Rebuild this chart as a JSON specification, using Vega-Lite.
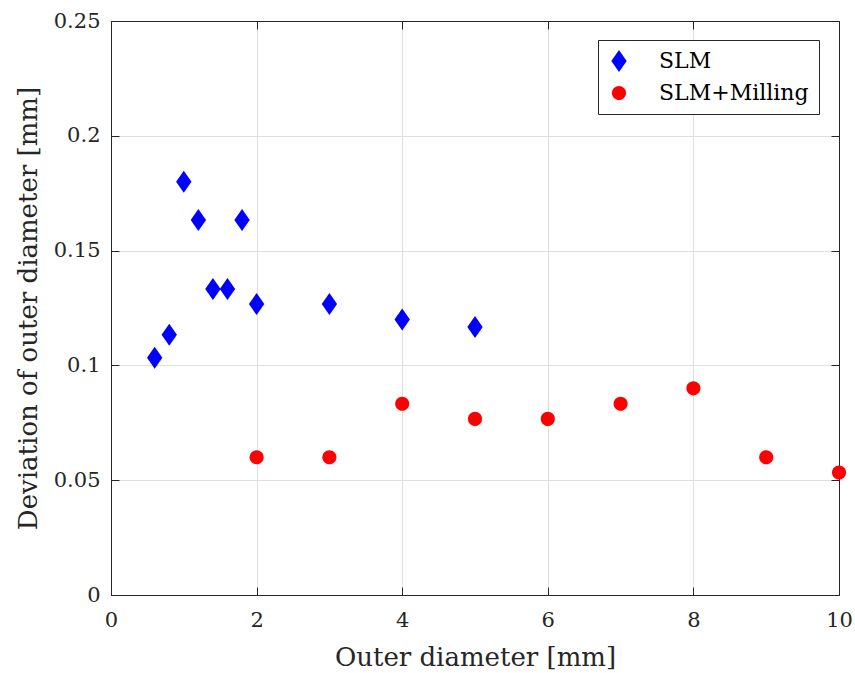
{
  "$schema": "https://vega.github.io/schema/vega-lite/v6.json",
  "autosize": "none",
  "width": 728,
  "height": 574,
  "padding": {"left": 111, "top": 21, "right": 16, "bottom": 78},
  "background": "white",
  "config": {
    "font": "DejaVu Serif",
    "view": {"stroke": null},
    "axis": {
      "domainColor": "#262626",
      "tickColor": "#262626",
      "labelColor": "#262626",
      "titleColor": "#262626",
      "labelFont": "DejaVu Serif",
      "titleFont": "DejaVu Serif",
      "labelFontSize": 21,
      "titleFontSize": 26,
      "titleFontWeight": "normal",
      "gridColor": "#dfdfdf",
      "domainWidth": 1,
      "tickWidth": 1,
      "labelFlush": false
    }
  },
  "data": {
    "values": [
      {"d": 0.6, "dev": 0.1033, "series": "SLM"},
      {"d": 0.8, "dev": 0.1133, "series": "SLM"},
      {"d": 1.0, "dev": 0.18, "series": "SLM"},
      {"d": 1.2, "dev": 0.1633, "series": "SLM"},
      {"d": 1.4, "dev": 0.1333, "series": "SLM"},
      {"d": 1.6, "dev": 0.1333, "series": "SLM"},
      {"d": 1.8, "dev": 0.1633, "series": "SLM"},
      {"d": 2, "dev": 0.1267, "series": "SLM"},
      {"d": 3, "dev": 0.1267, "series": "SLM"},
      {"d": 4, "dev": 0.12, "series": "SLM"},
      {"d": 5, "dev": 0.1167, "series": "SLM"},
      {"d": 2, "dev": 0.06, "series": "SLM+Milling"},
      {"d": 3, "dev": 0.06, "series": "SLM+Milling"},
      {"d": 4, "dev": 0.0833, "series": "SLM+Milling"},
      {"d": 5, "dev": 0.0767, "series": "SLM+Milling"},
      {"d": 6, "dev": 0.0767, "series": "SLM+Milling"},
      {"d": 7, "dev": 0.0833, "series": "SLM+Milling"},
      {"d": 8, "dev": 0.09, "series": "SLM+Milling"},
      {"d": 9, "dev": 0.06, "series": "SLM+Milling"},
      {"d": 10, "dev": 0.0533, "series": "SLM+Milling"}
    ]
  },
  "resolve": {"axis": {"x": "independent", "y": "independent"}},
  "layer": [
    {
      "mark": {"type": "point", "filled": true, "opacity": 1, "size": 484},
      "encoding": {
        "x": {
          "field": "d", "type": "quantitative",
          "scale": {"domain": [0, 10], "nice": false, "zero": false},
          "axis": {"orient": "bottom", "values": [0, 2, 4, 6, 8, 10], "tickSize": -8, "labelPadding": 22, "title": "Outer diameter [mm]", "titlePadding": 14, "grid": true, "format": "d"}
        },
        "y": {
          "field": "dev", "type": "quantitative",
          "scale": {"domain": [0, 0.25], "nice": false, "zero": false},
          "axis": {"orient": "left", "values": [0, 0.05, 0.1, 0.15, 0.2, 0.25], "tickSize": -8, "labelPadding": 19, "title": "Deviation of outer diameter [mm]", "titlePadding": 12, "grid": true, "format": "~g"}
        },
        "color": {
          "field": "series", "type": "nominal",
          "scale": {"domain": ["SLM", "SLM+Milling"], "range": ["#0000ff", "#ff0000"]},
          "legend": {
            "title": null,
            "orient": "none",
            "legendX": 487,
            "legendY": 19,
            "strokeColor": "#262626",
            "fillColor": "white",
            "padding": 10,
            "rowPadding": 10,
            "labelFont": "DejaVu Serif",
            "labelFontSize": 22,
            "labelColor": "#000000",
            "labelOffset": 29,
            "symbolSize": 484,
            "symbolStrokeWidth": 0
          }
        },
        "shape": {
          "field": "series", "type": "nominal",
          "scale": {"domain": ["SLM", "SLM+Milling"], "range": ["M0,-1L0.7,0L0,1L-0.7,0Z", "M-0.64,0A0.64,0.64,0,1,0,0.64,0A0.64,0.64,0,1,0,-0.64,0Z"]}
        }
      }
    },
    {
      "mark": {"type": "point", "opacity": 0},
      "encoding": {
        "x": {
          "field": "d", "type": "quantitative",
          "axis": {"orient": "top", "values": [0, 2, 4, 6, 8, 10], "tickSize": -8, "labels": false, "title": null, "grid": false}
        },
        "y": {
          "field": "dev", "type": "quantitative",
          "axis": {"orient": "right", "values": [0, 0.05, 0.1, 0.15, 0.2, 0.25], "tickSize": -8, "labels": false, "title": null, "grid": false}
        }
      }
    }
  ]
}
